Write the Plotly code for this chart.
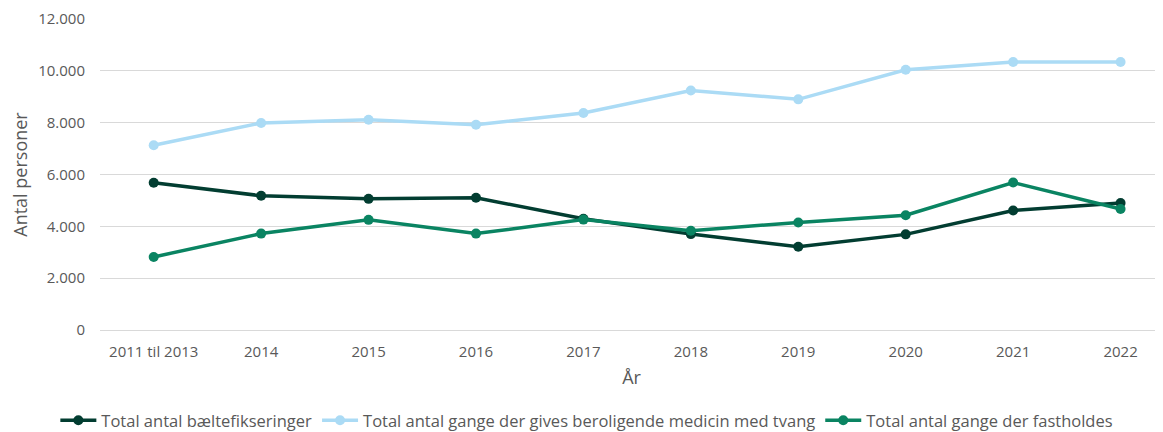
import plotly.graph_objects as go

categories = ["2011 til 2013", "2014", "2015", "2016", "2017", "2018", "2019", "2020", "2021", "2022"]
baelte = [5680, 5180, 5060, 5100, 4290, 3700, 3210, 3690, 4610, 4900]
medicin = [7130, 7990, 8110, 7920, 8370, 9240, 8900, 10040, 10340, 10340]
fasthold = [2820, 3720, 4250, 3720, 4260, 3830, 4150, 4430, 5690, 4670]

names = ["Total antal bæltefikseringer",
         "Total antal gange der gives beroligende medicin med tvang",
         "Total antal gange der fastholdes"]
colors = ["#023D31", "#ABDBF5", "#0A8462"]

fig = go.Figure()
for vals, name, col in zip([baelte, medicin, fasthold], names, colors):
    fig.add_trace(go.Scatter(
        x=categories, y=vals, name=name, mode="lines+markers",
        line=dict(color=col, width=3.5),
        marker=dict(color=col, size=10),
    ))

font_family = "'Open Sans', Lato, sans-serif"
# page body has an 8px default margin: compensate in the figure margins
fig.update_layout(
    width=1163, height=432,
    margin=dict(l=92, r=8, t=11, b=110, autoexpand=False),
    paper_bgcolor="white", plot_bgcolor="white",
    separators=",.",
    font=dict(family=font_family, color="#595959", size=14),
    showlegend=True,
    legend=dict(orientation="h", x=0.458, xanchor="center",
                yref="container", y=0.045, yanchor="middle",
                font=dict(size=16.5, color="#595959"),
                itemwidth=36, tracegroupgap=0),
    xaxis=dict(
        type="category", range=[-0.5, 9.395], automargin=False,
        showgrid=False, showline=False, zeroline=False,
        ticks="", ticklabelstandoff=11,
        tickfont=dict(size=15, color="#595959"),
        title=dict(text="År", font=dict(size=18, color="#595959"), standoff=11),
    ),
    yaxis=dict(
        range=[0, 12000], dtick=2000, tickformat=",d", automargin=False,
        showgrid=True, gridcolor="#D9D9D9", gridwidth=1,
        zeroline=True, zerolinecolor="#D9D9D9", zerolinewidth=1,
        showline=False, ticks="", ticklabelstandoff=14,
        tickfont=dict(size=15, color="#595959"),
        title=dict(text="Antal personer", font=dict(size=18, color="#595959"), standoff=12),
    ),
)

fig.write_html("out.html")
